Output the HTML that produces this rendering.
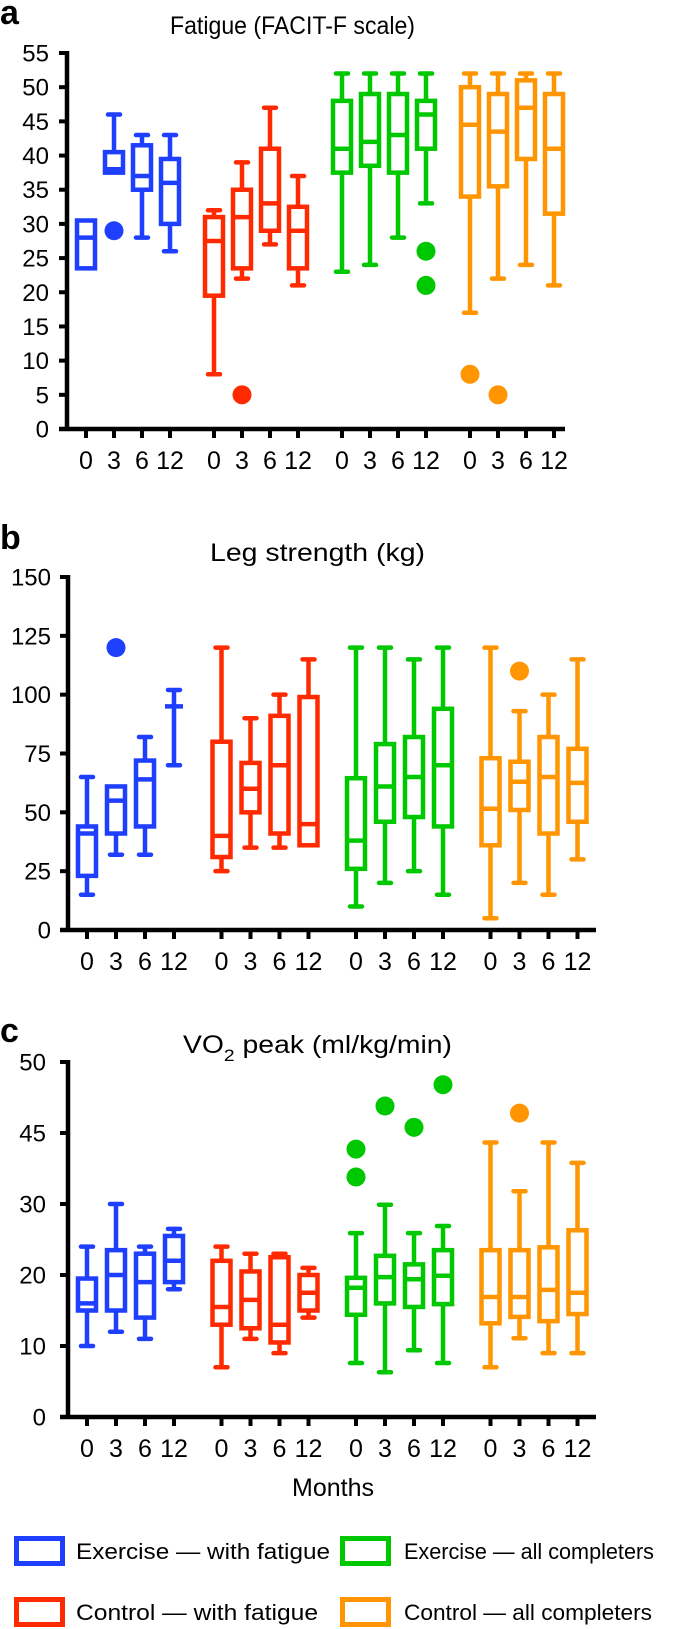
<!DOCTYPE html>
<html><head><meta charset="utf-8"><style>
html,body{margin:0;padding:0;background:#fff;}
svg{display:block;font-family:"Liberation Sans",Arial,sans-serif;}
</style></head><body>
<svg id="fig" width="685" height="1629" viewBox="0 0 685 1629" xmlns="http://www.w3.org/2000/svg">
<g id="root"></g>
</svg>
<script>
const months = ["0","3","6","12"];
const groups = ["Exercise — with fatigue","Control — with fatigue","Exercise — all completers","Control — all completers"];
const colors = ["#1f3fff","#ff2a00","#00c800","#ff9500"];

// Panel a: Fatigue
const A_lo  = [23.5,37.5,28,26, 8,22,27,21, 23,24,28,33, 17,22,24,21];
const A_q1  = [23.5,37.5,35,30, 19.5,23.5,29,23.5, 37.5,38.5,37.5,41, 34,35.5,39.5,31.5];
const A_med = [28,38,37,36, 27.5,31,33,29, 41,42,43,46, 44.5,43.5,47,41];
const A_q3  = [30.5,40.5,41.5,39.5, 31,35,41,32.5, 48,49,49,48, 50,49,51,49];
const A_hi  = [30.5,46,43,43, 32,39,47,37, 52,52,52,52, 52,52,52,52];
const A_outIdx = [1,5,11,11,12,13];
const A_outVal = [29,5,26,21,8,5];
const A_ticks = [0,5,10,15,20,25,30,35,40,45,50,55];

// Panel b: Leg strength
const B_lo  = [15,32,32,70, 25,35,35,36, 10,20,25,15, 5,20,15,30];
const B_q1  = [23,41,44,95, 31,50,41,36, 26,46,48,44, 36,51,41,46];
const B_med = [41,55,64,95, 40,60,70,45, 38,61,65,70, 51.5,63,65,62.5];
const B_q3  = [44,61,72,95, 80,71,91,99, 64.5,79,82,94, 73,71.5,82,77];
const B_hi  = [65,61,82,102, 120,90,100,115, 120,120,115,120, 120,93,100,115];
const B_outIdx = [1,13];
const B_outVal = [120,110];
const B_ticks = [0,25,50,75,100,125,150];

// Panel c: VO2 peak
const C_lo  = [10,12,11,18, 7,11,9,14, 7.6,6.3,9.4,7.6, 7,11.1,9,9];
const C_q1  = [15,15,14,19, 13,12.5,10.5,15, 14.4,16,15.5,15.9, 13.2,14.1,13.5,14.5];
const C_med = [16,20,19,22, 15.5,16.5,13,17.5, 18.2,19.7,19.4,19.9, 16.9,16.9,17.9,17.5];
const C_q3  = [19.5,23.5,23,25.5, 22,20.5,22.5,20, 19.6,22.7,21.5,23.5, 23.5,23.5,23.9,26.3];
const C_hi  = [24,30,24,26.5, 24,23,23,21, 25.9,29.9,25.9,26.9, 43,32.7,43,38.7];
const C_outIdx = [8,8,9,10,11,13];
const C_outVal = [41.6,35.7,46.9,45.4,48.4,46.4];
const C_ticks = [0,10,20,30,45,50];

const NS="http://www.w3.org/2000/svg";
const root=document.getElementById('root');
function mk(tag,attrs,parent){const e=document.createElementNS(NS,tag);for(const k in attrs)e.setAttribute(k,attrs[k]);(parent||root).appendChild(e);return e;}

function panel(cfg){
  const g=mk('g',{});
  
  
  const y=cfg.y;
  const L=mk('text',{x:0,y:cfg.letterY,'font-size':34,'font-weight':'bold',fill:'#000'},g);
  L.textContent=cfg.letter;
  
  
  const T=mk('text',{x:cfg.titleX,y:cfg.titleY,'font-size':25,fill:'#000',textLength:cfg.titleLen,lengthAdjust:'spacingAndGlyphs'},g);
  if(cfg.sub){
    T.appendChild(document.createTextNode('VO'));
    const s=mk('tspan',{'font-size':17,dy:8},T);s.textContent='2';
    const r=mk('tspan',{dy:-8},T);r.textContent=' peak (ml/kg/min)';
  } else T.textContent=cfg.title;
  
  
  const top=y(cfg.ticks[cfg.ticks.length-1]), bot=y(0);
  const ya=mk('line',{x1:cfg.ax,y1:top-2,x2:cfg.ax,y2:bot+2,stroke:'#000','stroke-width':4.5},g);
  
  
  cfg.ticks.forEach(t=>{
    const ty=y(t);
    mk('line',{x1:cfg.ax-8,y1:ty,x2:cfg.ax,y2:ty,stroke:'#000','stroke-width':4},g);
    const lt=mk('text',{x:cfg.labX,y:ty+8.5,'font-size':24,'text-anchor':'end',fill:'#000'},g);
    lt.textContent=t;
    
    
  });
  const xa=mk('line',{x1:cfg.ax-8,y1:bot,x2:cfg.xEnd,y2:bot,stroke:'#000','stroke-width':4.5},g);
  
  
  for(let i=0;i<16;i++){
    const gi=Math.floor(i/4),k=i%4;
    const cx=cfg.x0+gi*cfg.gs+k*cfg.ks;
    mk('line',{x1:cx,y1:bot,x2:cx,y2:bot+9,stroke:'#000','stroke-width':4},g);
    const xl=mk('text',{x:cx,y:bot+40,'font-size':25,'text-anchor':'middle',fill:'#000'},g);
    xl.textContent=months[k];
    
    
    const col=colors[gi];
    const bg=mk('g',{stroke:col,fill:'none','stroke-width':4.5},g);
    
    
    const lo=y(cfg.lo[i]),q1=y(cfg.q1[i]),md=y(cfg.med[i]),q3=y(cfg.q3[i]),hi=y(cfg.hi[i]);
    const w=9;
    if(cfg.hi[i]>cfg.q3[i]){
      mk('line',{x1:cx,y1:q3,x2:cx,y2:hi},bg);
      mk('line',{x1:cx-6,y1:hi,x2:cx+6,y2:hi,'stroke-linecap':'round'},bg);
    }
    if(cfg.lo[i]<cfg.q1[i]){
      mk('line',{x1:cx,y1:q1,x2:cx,y2:lo},bg);
      mk('line',{x1:cx-6,y1:lo,x2:cx+6,y2:lo,'stroke-linecap':'round'},bg);
    }
    if(cfg.q3[i]>cfg.q1[i]) mk('rect',{x:cx-w,y:q3,width:2*w,height:q1-q3},bg);
    mk('line',{x1:cx-w,y1:md,x2:cx+w,y2:md},bg);
  }
  cfg.outIdx.forEach((oi,j)=>{
    const gi=Math.floor(oi/4),k=oi%4;
    const cx=cfg.x0+gi*cfg.gs+k*cfg.ks;
    const c=mk('circle',{cx:cx,cy:y(cfg.outVal[j]),r:9.5,fill:colors[gi]},g);
    
    
  });
}

const yA=v=>429-v*(376/55);
const yB=v=>930-v*(353/150);
const cPts=[0,10,20,30,45,50];
const yC=v=>{let i=0;while(i<cPts.length-2&&v>cPts[i+1])i++;const p=i+(v-cPts[i])/(cPts[i+1]-cPts[i]);return 1417-p*71;};

panel({name:'panel-a-fatigue',letter:'a',letterY:24,title:'Fatigue (FACIT-F scale)',titleX:170,titleY:34,titleLen:245,
  y:yA,ticks:A_ticks,ax:67,labX:49,xEnd:565,x0:86,gs:128,ks:28,
  lo:A_lo,q1:A_q1,med:A_med,q3:A_q3,hi:A_hi,outIdx:A_outIdx,outVal:A_outVal});
panel({name:'panel-b-leg-strength',letter:'b',letterY:549,title:'Leg strength (kg)',titleX:210,titleY:561,titleLen:215,
  y:yB,ticks:B_ticks,ax:68,labX:51,xEnd:596,x0:87,gs:134.5,ks:29,
  lo:B_lo,q1:B_q1,med:B_med,q3:B_q3,hi:B_hi,outIdx:B_outIdx,outVal:B_outVal});
panel({name:'panel-c-vo2-peak',letter:'c',letterY:1042,sub:true,titleX:183,titleY:1053,titleLen:269,
  y:yC,ticks:C_ticks,ax:68,labX:46,xEnd:596,x0:87,gs:134.5,ks:29,
  lo:C_lo,q1:C_q1,med:C_med,q3:C_q3,hi:C_hi,outIdx:C_outIdx,outVal:C_outVal});

const mo=mk('text',{x:333,y:1496,'font-size':25,'text-anchor':'middle',fill:'#000'});
mo.textContent='Months';



const legX=[[14,76],[14,76],[340,404],[340,404]];
const legY=[1536,1597,1536,1597];
const legLen=[254,242,250,248];
[0,1,2,3].forEach(i=>{
  const lg=mk('g',{});
  
  
  mk('rect',{x:legX[i][0]+2.5,y:legY[i]+2.5,width:46,height:25,fill:'none',stroke:colors[i],'stroke-width':5},lg);
  const t=mk('text',{x:legX[i][1],y:legY[i]+23,'font-size':22,fill:'#000',textLength:legLen[i],lengthAdjust:'spacingAndGlyphs'},lg);
  t.textContent=groups[i];
});
</script>
</body></html>
